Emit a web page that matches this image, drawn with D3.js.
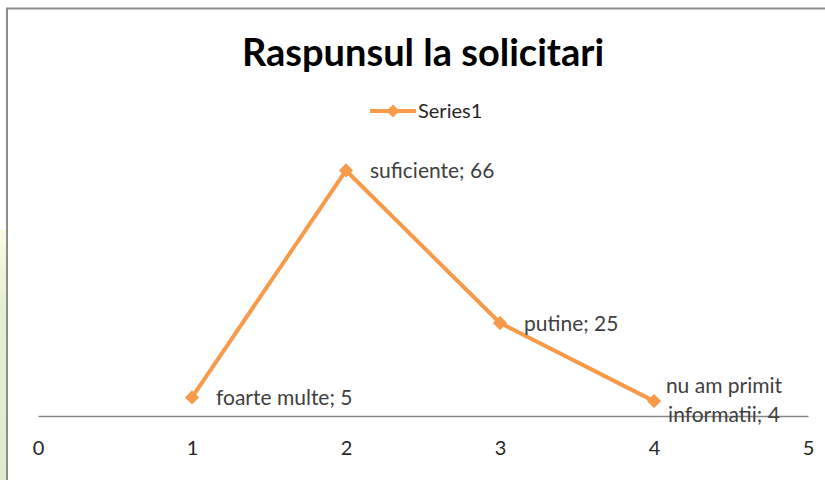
<!DOCTYPE html>
<html>
<head>
<meta charset="utf-8">
<script src="https://cdn.jsdelivr.net/npm/d3@7"></script>
<style>
  body { margin: 0; background: #fff; }
  svg { display: block; }
</style>
</head>
<body>
<svg width="825" height="480"></svg>
<script>
var categories = ["foarte multe", "suficiente", "putine", "nu am primit informatii"];
var xValues = [1, 2, 3, 4];
var values = [5, 66, 25, 4];
var xTicks = [0, 1, 2, 3, 4, 5];

var svg = d3.select("svg"),
    width = +svg.attr("width"),
    height = +svg.attr("height");

var orange = "#f79a4a";
var font = "Lato, 'Open Sans', sans-serif";

// slide background peeking on the left
var grad = svg.append("defs").append("linearGradient")
    .attr("id", "bg").attr("x1", 0).attr("y1", 0).attr("x2", 0).attr("y2", 1);
grad.append("stop").attr("offset", "0%").attr("stop-color", "#fbfbe0");
grad.append("stop").attr("offset", "30%").attr("stop-color", "#e6efd2");
grad.append("stop").attr("offset", "100%").attr("stop-color", "#dfeacd");
svg.append("rect").attr("x", 0).attr("y", 230).attr("width", 6).attr("height", 250)
    .attr("fill", "url(#bg)");

// chart frame
svg.append("line").attr("x1", 6).attr("x2", width).attr("y1", 8.5).attr("y2", 8.5)
    .attr("stroke", "#8c8c8c").attr("stroke-width", 2);
svg.append("line").attr("x1", 7).attr("x2", 7).attr("y1", 8).attr("y2", height)
    .attr("stroke", "#8c8c8c").attr("stroke-width", 2);

var x = d3.scaleLinear().domain([0, 5]).range([38, 808]);
var y = d3.scaleLinear().domain([0, 70]).range([416, 155.6]);

// title
svg.append("text")
    .attr("x", 423).attr("y", 66)
    .attr("text-anchor", "middle")
    .style("font-family", font).style("font-weight", "bold").style("font-size", "38px")
    .attr("fill", "#000")
    .text("Raspunsul la solicitari");

// legend
var legend = svg.append("g").attr("transform", "translate(370,111)");
legend.append("line").attr("x1", 0).attr("x2", 46).attr("y1", 0).attr("y2", 0)
    .attr("stroke", orange).attr("stroke-width", 4);
legend.append("path").attr("d", d3.symbol(d3.symbolDiamond2, 110)())
    .attr("transform", "translate(23,0)").attr("fill", orange);
legend.append("text").attr("x", 48).attr("y", 7)
    .style("font-family", font).style("font-size", "20px").attr("fill", "#262626")
    .text("Series1");

// x axis
var xAxis = svg.append("g").attr("transform", "translate(0," + y(0) + ")")
    .call(d3.axisBottom(x).tickValues(xTicks).tickSize(0).tickPadding(25).tickFormat(d3.format("d")));
xAxis.select(".domain").attr("stroke", "#868686").attr("stroke-width", 1.5);
xAxis.selectAll("text")
    .style("font-family", font).style("font-size", "20px").attr("fill", "#262626");

var data = xValues.map(function (d, i) { return { x: d, v: values[i], name: categories[i] }; });

svg.append("path")
    .datum(data)
    .attr("fill", "none")
    .attr("stroke", orange)
    .attr("stroke-width", 4)
    .attr("stroke-linejoin", "round")
    .attr("d", d3.line().x(function (d) { return x(d.x); }).y(function (d) { return y(d.v); }));

svg.append("g").selectAll("path")
    .data(data)
    .enter().append("path")
    .attr("d", d3.symbol(d3.symbolDiamond2, 130)())
    .attr("fill", orange)
    .attr("transform", function (d) { return "translate(" + x(d.x) + "," + y(d.v) + ")"; });

// data labels
var labels = svg.append("g")
    .style("font-family", font).style("font-size", "21px").attr("fill", "#404040");

data.forEach(function (d, i) {
    if (i < 3) {
        labels.append("text")
            .attr("x", x(d.x) + 24).attr("y", y(d.v) + 8)
            .text(d.name + "; " + d.v);
    } else {
        var t = labels.append("text").attr("text-anchor", "middle");
        t.append("tspan").attr("x", x(d.x) + 70).attr("y", y(d.v) - 8).text("nu am primit");
        t.append("tspan").attr("x", x(d.x) + 70).attr("y", y(d.v) + 21).text("informatii; " + d.v);
    }
});
</script>
</body>
</html>
